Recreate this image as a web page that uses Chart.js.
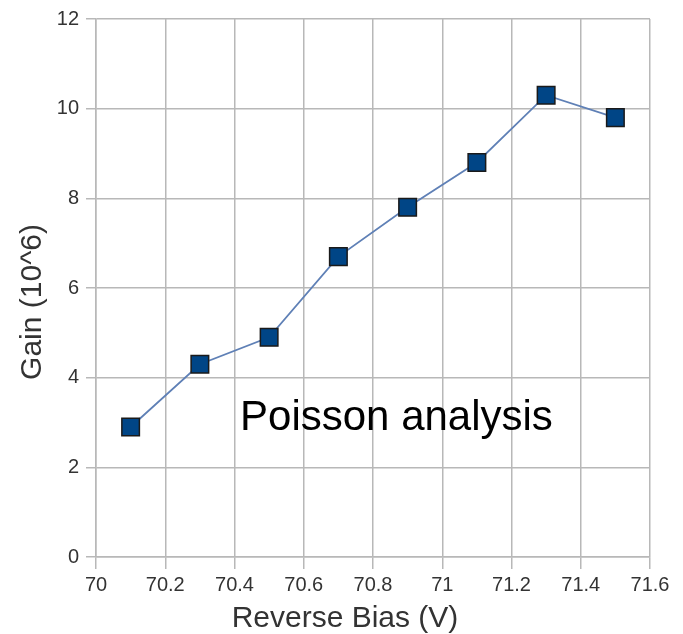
<!DOCTYPE html>
<html>
<head>
<meta charset="utf-8">
<script src="https://cdn.jsdelivr.net/npm/chart.js@4/dist/chart.umd.min.js"></script>
<style>
  html, body { margin: 0; padding: 0; background: #ffffff; }
  #wrap { width: 683px; height: 634px; position: relative; }
</style>
</head>
<body>
<div id="wrap"><canvas id="c" width="683" height="634"></canvas></div>
<script>
// ---- data ----
const biasVolts = [70.1, 70.3, 70.5, 70.7, 70.9, 71.1, 71.3, 71.5];
const gainValues = [2.9, 4.3, 4.9, 6.7, 7.8, 8.8, 10.3, 9.8];
const xTickValues = [70, 70.2, 70.4, 70.6, 70.8, 71, 71.2, 71.4, 71.6];
const yTickValues = [0, 2, 4, 6, 8, 10, 12];
const xTitle = 'Reverse Bias (V)';
const yTitle = 'Gain (10^6)';
const annotationText = 'Poisson analysis';
const annotationAt = [70.416, 2.83];

const FONT = "'Liberation Sans', Arial, sans-serif";
const GRID = '#b8b8b8';
const TXT = '#333333';

const extrasPlugin = {
  id: 'extras',
  afterDraw(chart) {
    const ctx = chart.ctx;
    const xs = chart.scales.x, ys = chart.scales.y;
    ctx.save();
    // annotation
    ctx.fillStyle = '#000000';
    ctx.font = '42px ' + FONT;
    ctx.textAlign = 'left';
    ctx.textBaseline = 'alphabetic';
    ctx.fillText(annotationText, xs.getPixelForValue(annotationAt[0]), ys.getPixelForValue(annotationAt[1]));
    // x title
    ctx.fillStyle = TXT;
    ctx.font = '30px ' + FONT;
    ctx.textAlign = 'center';
    ctx.fillText(xTitle, 345, 627);
    // y title
    ctx.translate(41, 302);
    ctx.rotate(-Math.PI / 2);
    ctx.fillText(yTitle, 0, 0);
    ctx.restore();
  }
};

new Chart(document.getElementById('c'), {
  type: 'scatter',
  data: {
    datasets: [{
      data: biasVolts.map((v, i) => ({ x: v, y: gainValues[i] })),
      showLine: true,
      borderColor: '#5f80b6',
      borderWidth: 1.8,
      pointStyle: 'rect',
      pointRadius: 12.4,
      pointHoverRadius: 12.4,
      pointBackgroundColor: '#004586',
      pointBorderColor: '#1a1a1a',
      pointBorderWidth: 1.5,
      tension: 0
    }]
  },
  options: {
    responsive: false,
    animation: false,
    events: [],
    layout: { padding: { top: 15, right: 33, left: 0, bottom: 0 } },
    plugins: { legend: { display: false }, tooltip: { enabled: false } },
    scales: {
      x: {
        type: 'linear',
        min: 70, max: 71.6,
        afterFit(s) { s.height = 77; },
        afterBuildTicks(s) { s.ticks = xTickValues.map(v => ({ value: v })); },
        grid: { color: GRID, lineWidth: 1.5, tickLength: 12, drawTicks: true },
        border: { color: GRID, width: 1.5 },
        ticks: {
          color: TXT,
          font: { family: FONT, size: 20 },
          padding: 4,
          maxRotation: 0,
          autoSkip: false,
          callback: v => String(Math.round(v * 10) / 10)
        }
      },
      y: {
        type: 'linear',
        min: 0, max: 12,
        afterFit(s) { s.width = 96; },
        afterBuildTicks(s) { s.ticks = yTickValues.map(v => ({ value: v })); },
        grid: { color: GRID, lineWidth: 1.5, tickLength: 10, drawTicks: true },
        border: { color: GRID, width: 1.5 },
        ticks: {
          color: TXT,
          font: { family: FONT, size: 20 },
          padding: 7,
          autoSkip: false,
          callback: v => String(v)
        }
      }
    }
  },
  plugins: [extrasPlugin]
});
</script>
</body>
</html>
